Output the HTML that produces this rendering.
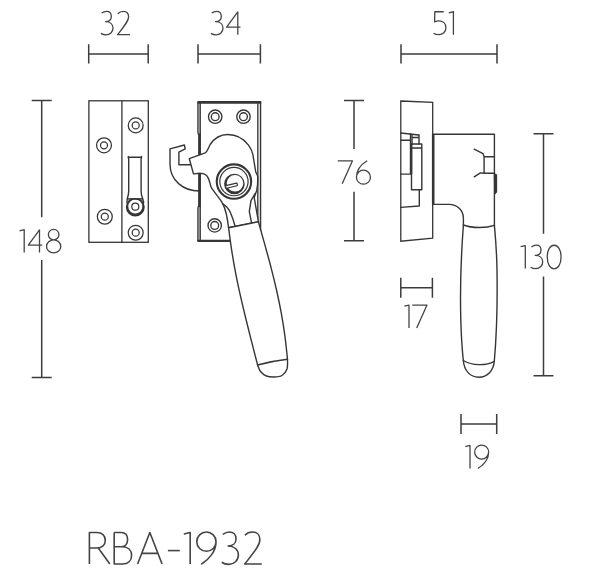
<!DOCTYPE html>
<html><head><meta charset="utf-8"><title>RBA-1932</title>
<style>
html,body{margin:0;padding:0;background:#fff;}
body{width:600px;height:574px;overflow:hidden;font-family:"Liberation Sans",sans-serif;}
svg{display:block;}
</style></head>
<body>
<svg width="600" height="574" viewBox="0 0 600 574">
<rect width="600" height="574" fill="#fff"/>
<path d="M88.7 53.9 H148.2 M88.7 44.3 V63.5 M148.2 44.3 V63.5" fill="none" stroke="#3c3c3c" stroke-width="1.5"/>
<path d="M198 53.9 H260.4 M198 44.3 V63.5 M260.4 44.3 V63.5" fill="none" stroke="#3c3c3c" stroke-width="1.5"/>
<path d="M401 53.9 H497 M401 44.3 V63.5 M497 44.3 V63.5" fill="none" stroke="#3c3c3c" stroke-width="1.5"/>
<path d="M400.8 287.7 H432.4 M400.8 277.7 V297.7 M432.4 277.7 V297.7" fill="none" stroke="#3c3c3c" stroke-width="1.5"/>
<path d="M461 424 H496.7 M461 414 V434 M496.7 414 V434" fill="none" stroke="#3c3c3c" stroke-width="1.5"/>
<path d="M41.7 100.6 V217.3 M41.7 260 V377.5 M31.700000000000003 100.6 H51.7 M31.700000000000003 377.5 H51.7" fill="none" stroke="#3c3c3c" stroke-width="1.5"/>
<path d="M354 100.6 V149 M354 191.7 V240.8 M344 100.6 H364 M344 240.8 H364" fill="none" stroke="#3c3c3c" stroke-width="1.5"/>
<path d="M543.5 133.7 V233.7 M543.5 276.5 V375.7 M533.5 133.7 H553.5 M533.5 375.7 H553.5" fill="none" stroke="#3c3c3c" stroke-width="1.5"/>
<g fill="none" stroke="#444444" stroke-linejoin="round" stroke-linecap="butt"><path transform="translate(100.40,11.20) scale(1.0000)" d="M1.3 1.9 C2.7 0.8 4.4 0.15 6.1 0.15 C9 0.15 10.9 2.2 10.9 5.2 C10.9 8.4 8.4 10.3 5.1 10.4 C9.6 10.4 12.6 13 12.6 16.9 C12.6 21 9.5 23.7 5.7 23.7 C3.6 23.7 1.8 23.1 0.55 22.2" stroke-width="1.300"/><path transform="translate(116.80,11.20) scale(1.0000)" d="M0.9 2.5 C2.3 1 4.2 0.15 6.4 0.15 C9.7 0.15 11.8 2.4 11.8 5.8 C11.8 9.6 8.6 13.4 0.8 23.5 H13.2" stroke-width="1.300"/></g>
<g fill="none" stroke="#444444" stroke-linejoin="round" stroke-linecap="butt"><path transform="translate(210.40,11.20) scale(1.0000)" d="M1.3 1.9 C2.7 0.8 4.4 0.15 6.1 0.15 C9 0.15 10.9 2.2 10.9 5.2 C10.9 8.4 8.4 10.3 5.1 10.4 C9.6 10.4 12.6 13 12.6 16.9 C12.6 21 9.5 23.7 5.7 23.7 C3.6 23.7 1.8 23.1 0.55 22.2" stroke-width="1.300"/><path transform="translate(225.80,11.20) scale(1.0000)" d="M12 23.5 V0.7 L0.8 16 H14.7" stroke-width="1.300"/></g>
<g fill="none" stroke="#444444" stroke-linejoin="round" stroke-linecap="butt"><path transform="translate(433.00,11.20) scale(1.0000)" d="M10.7 0.55 H1.8 L1.6 10.6 C3 10 4.4 9.7 5.8 9.7 C10 9.7 12.9 12.4 12.9 16.5 C12.9 20.7 9.8 23.5 5.7 23.5 C3.6 23.5 1.8 22.9 0.55 22" stroke-width="1.300"/><path transform="translate(448.20,11.20) scale(1.0000)" d="M0.55 1.7 L5.2 0.55 V23.5" stroke-width="1.300"/></g>
<g fill="none" stroke="#444444" stroke-linejoin="round" stroke-linecap="butt"><path transform="translate(337.20,160.30) scale(1.0000)" d="M0.55 0.55 H15.3 L5 23.5" stroke-width="1.300"/><path transform="translate(355.90,160.30) scale(1.0000)" d="M11.3 0.5 C5.8 3.8 0.55 9.8 0.55 16.9 A7 7 0 1 0 14.55 16.9 A7 7 0 1 0 0.55 16.9" stroke-width="1.300"/></g>
<g fill="none" stroke="#444444" stroke-linejoin="round" stroke-linecap="butt"><path transform="translate(19.00,229.10) scale(1.0000)" d="M0.55 1.7 L5.2 0.55 V23.5" stroke-width="1.300"/><path transform="translate(27.50,229.10) scale(1.0000)" d="M12 23.5 V0.7 L0.8 16 H14.7" stroke-width="1.300"/><path transform="translate(46.00,229.10) scale(1.0000)" d="M7.65 10.75 C4.7 10.75 2.35 8.4 2.35 5.5 C2.35 2.6 4.7 0.25 7.65 0.25 C10.6 0.25 12.95 2.6 12.95 5.5 C12.95 8.4 10.6 10.75 7.65 10.75 C11.6 10.75 14.75 13.7 14.75 17.3 C14.75 20.9 11.6 23.85 7.65 23.85 C3.7 23.85 0.55 20.9 0.55 17.3 C0.55 13.7 3.7 10.75 7.65 10.75 Z" stroke-width="1.300"/></g>
<g fill="none" stroke="#444444" stroke-linejoin="round" stroke-linecap="butt"><path transform="translate(520.10,245.00) scale(1.0000)" d="M0.55 1.7 L5.2 0.55 V23.5" stroke-width="1.300"/><path transform="translate(530.10,245.00) scale(1.0000)" d="M1.3 1.9 C2.7 0.8 4.4 0.15 6.1 0.15 C9 0.15 10.9 2.2 10.9 5.2 C10.9 8.4 8.4 10.3 5.1 10.4 C9.6 10.4 12.6 13 12.6 16.9 C12.6 21 9.5 23.7 5.7 23.7 C3.6 23.7 1.8 23.1 0.55 22.2" stroke-width="1.300"/><path transform="translate(546.70,245.00) scale(1.0000)" d="M7.45 0.25 C3.6 0.25 0.55 4.8 0.55 12.05 C0.55 19.3 3.6 23.85 7.45 23.85 C11.3 23.85 14.35 19.3 14.35 12.05 C14.35 4.8 11.3 0.25 7.45 0.25 Z" stroke-width="1.300"/></g>
<g fill="none" stroke="#444444" stroke-linejoin="round" stroke-linecap="butt"><path transform="translate(403.80,304.50) scale(1.0000)" d="M0.55 1.7 L5.2 0.55 V23.5" stroke-width="1.300"/><path transform="translate(411.70,304.50) scale(1.0000)" d="M0.55 0.55 H15.3 L5 23.5" stroke-width="1.300"/></g>
<g fill="none" stroke="#444444" stroke-linejoin="round" stroke-linecap="butt"><path transform="translate(464.80,444.90) scale(1.0000)" d="M0.55 1.7 L5.2 0.55 V23.5" stroke-width="1.300"/><path transform="translate(474.10,444.90) scale(1.0000)" d="M3.8 23.6 C9.3 20.3 14.55 14.3 14.55 7.2 A7 7 0 1 0 0.55 7.2 A7 7 0 1 0 14.55 7.2" stroke-width="1.300"/></g>
<g fill="none" stroke="#444444" stroke-linejoin="round" stroke-linecap="butt"><path transform="translate(88.64,531.74) scale(1.3750)" d="M0.55 23.5 V0.55 H6 C9.8 0.55 12.1 2.8 12.1 6.15 C12.1 9.5 9.8 11.8 6 11.8 H0.55 M7 11.8 L15.4 23.5" stroke-width="1.164"/><path transform="translate(113.44,531.74) scale(1.3750)" d="M0.55 0.55 V23.5 H6.6 C10.6 23.5 13.2 21 13.2 17.2 C13.2 13.4 10.6 10.9 6.4 10.9 H0.55 M0.55 0.55 H5.6 C8.6 0.55 10.3 2.6 10.3 5.7 C10.3 8.8 8.6 10.9 5.8 10.9" stroke-width="1.164"/><path transform="translate(136.84,531.74) scale(1.3750)" d="M0.55 23.5 L9.45 0.55 L18.35 23.5 M3.7 15.7 H15.2" stroke-width="1.164"/><path transform="translate(167.14,531.74) scale(1.3750)" d="M0.55 13.7 H9.2" stroke-width="1.164"/><path transform="translate(183.04,531.74) scale(1.3750)" d="M0.55 1.7 L5.2 0.55 V23.5" stroke-width="1.164"/><path transform="translate(196.04,531.74) scale(1.3750)" d="M3.8 23.6 C9.3 20.3 14.55 14.3 14.55 7.2 A7 7 0 1 0 0.55 7.2 A7 7 0 1 0 14.55 7.2" stroke-width="1.164"/><path transform="translate(221.04,531.74) scale(1.3750)" d="M1.3 1.9 C2.7 0.8 4.4 0.15 6.1 0.15 C9 0.15 10.9 2.2 10.9 5.2 C10.9 8.4 8.4 10.3 5.1 10.4 C9.6 10.4 12.6 13 12.6 16.9 C12.6 21 9.5 23.7 5.7 23.7 C3.6 23.7 1.8 23.1 0.55 22.2" stroke-width="1.164"/><path transform="translate(243.64,531.74) scale(1.3750)" d="M0.9 2.5 C2.3 1 4.2 0.15 6.4 0.15 C9.7 0.15 11.8 2.4 11.8 5.8 C11.8 9.6 8.6 13.4 0.8 23.5 H13.2" stroke-width="1.164"/></g>
<rect x="88.9" y="100.8" width="59.4" height="141.5" fill="none" stroke="#353535" stroke-width="1.3" stroke-linejoin="miter" stroke-linecap="butt"/><path d="M121.9 100.8 V242.3" fill="none" stroke="#353535" stroke-width="1.3" stroke-linejoin="miter" stroke-linecap="butt"/><circle cx="135.7" cy="125.4" r="7.45" fill="#fff" stroke="#353535" stroke-width="1.25"/><circle cx="135.7" cy="125.4" r="3.5" fill="#fff" stroke="#353535" stroke-width="1.25"/><circle cx="104" cy="145.3" r="7.45" fill="#fff" stroke="#353535" stroke-width="1.25"/><circle cx="104" cy="145.3" r="3.5" fill="#fff" stroke="#353535" stroke-width="1.25"/><circle cx="104.8" cy="216.7" r="7.45" fill="#fff" stroke="#353535" stroke-width="1.25"/><circle cx="104.8" cy="216.7" r="3.5" fill="#fff" stroke="#353535" stroke-width="1.25"/><circle cx="135.7" cy="232.7" r="7.45" fill="#fff" stroke="#353535" stroke-width="1.25"/><circle cx="135.7" cy="232.7" r="3.5" fill="#fff" stroke="#353535" stroke-width="1.25"/><path d="M125.85000000000001 207.0 A9.45 9.45 0 1 0 144.75 207.0 A9.45 9.45 0 1 0 125.85000000000001 207.0 Z M128.25 206.55 A7.05 7.05 0 1 0 142.35000000000002 206.55 A7.05 7.05 0 1 0 128.25 206.55 Z" fill="#353535" fill-rule="evenodd" stroke="none"/><rect x="129.3" y="158" width="11.2" height="40.3" fill="#fff"/><path d="M128.7 157.3 H141.1 M128.3 156.4 V158 M141.5 156.4 V158 M128.7 157.3 V191 C128.7 194 128 196.5 127.3 198.6 L126.9 202.5 M141.1 157.3 V191 C141.1 194 141.8 196.5 142.7 198.6 L143.7 202.5" fill="none" stroke="#353535" stroke-width="1.4" stroke-linejoin="round" stroke-linecap="round"/><path d="M127.2 198.9 H142.9" fill="none" stroke="#353535" stroke-width="1.5"/><circle cx="135.3" cy="206.7" r="3.5" fill="#fff" stroke="#353535" stroke-width="1.2"/>
<path d="M199.1 102 V241" fill="none" stroke="#b4b4b4" stroke-width="1.4"/><path d="M259.2 102 V241" fill="none" stroke="#dcdcdc" stroke-width="1.4"/><path d="M197.9 102 V132.5 L198.5 134.5 M198.5 206 L197.9 208 V241 M260.6 102 V241" fill="none" stroke="#353535" stroke-width="1.3" stroke-linejoin="miter" stroke-linecap="butt"/><path d="M199.4 133.5 V207" fill="none" stroke="#353535" stroke-width="2.5"/><path d="M197.45 102.35 H261.25" fill="none" stroke="#353535" stroke-width="2.7"/><path d="M197.45 240.9 H261.25" fill="none" stroke="#353535" stroke-width="2.4"/><path d="M200.25 102 V241 M257.8 102 V241" fill="none" stroke="#353535" stroke-width="1.3" stroke-linejoin="miter" stroke-linecap="butt"/><circle cx="215.2" cy="116.7" r="6.7" fill="#fff" stroke="#353535" stroke-width="1.35"/><circle cx="215.2" cy="116.7" r="3.9" fill="#fff" stroke="#353535" stroke-width="1.35"/><circle cx="243.5" cy="116.7" r="6.7" fill="#fff" stroke="#353535" stroke-width="1.35"/><circle cx="243.5" cy="116.7" r="3.9" fill="#fff" stroke="#353535" stroke-width="1.35"/><circle cx="214.7" cy="225.4" r="6.7" fill="#fff" stroke="#353535" stroke-width="1.35"/><circle cx="214.7" cy="225.4" r="3.9" fill="#fff" stroke="#353535" stroke-width="1.35"/><path d="M199 191 C184 191 170 181 170 164 L170 148.9 L184.4 145 L185.2 148.9 L178.9 152.2 L178.9 164.8 L190.6 164.8" fill="none" stroke="#353535" stroke-width="1.4" stroke-linejoin="round" stroke-linecap="round"/><path d="M189.3 158.7 L199 155.2 L205.2 152.8 C207.5 151.8 208.3 147.7 210.2 144.5 C214 138.8 220.5 134.5 227.7 134.5 C236.5 134.5 244 139.2 248.5 145.2 C251 148.7 252.3 152 252.8 154.2 L255.7 171.7 L257.6 175.8 C258 181 257.6 186 256.8 190.2 L254.2 197.5 L258.4 221.7 L228.6 227.8 C227.3 217 225.6 209 222.8 203.8 C220 198.5 214 192 211.2 187.3 C209.5 182.5 209.2 177 205.8 174.8 C203.8 173.4 201 173.3 199.6 173.3 L193.5 173.9 Z" fill="#fff" stroke="#353535" stroke-width="1.4" stroke-linejoin="round" stroke-linecap="round"/><path d="M222.8 203.8 C226.5 206 229.5 210 230.7 213.2 C232.5 217.5 234 221.5 234.9 225.8" fill="none" stroke="#353535" stroke-width="1.4" stroke-linejoin="round" stroke-linecap="round"/><path d="M255.2 193.4 L251 200.7 L249.3 211.6 L251.6 222.8" fill="none" stroke="#353535" stroke-width="1.4" stroke-linejoin="round" stroke-linecap="round"/><circle cx="233.95" cy="181.6" r="17.2" fill="#fff" stroke="#353535" stroke-width="2.1"/><circle cx="233.95" cy="181.6" r="14.15" fill="#fff" stroke="#353535" stroke-width="1.2"/><path d="M224.1 183.95 A10.3 10.3 0 1 0 244.70000000000002 183.95 A10.3 10.3 0 1 0 224.1 183.95 Z M226.7 183.3 A8.3 8.3 0 1 0 243.3 183.3 A8.3 8.3 0 1 0 226.7 183.3 Z" fill="#353535" fill-rule="evenodd" stroke="none"/><rect x="-5.9" y="-1.35" width="11.8" height="2.7" rx="0.5" transform="translate(231.5,185.7) rotate(-13.6)" fill="#fff" stroke="#353535" stroke-width="1.15"/><path d="M228.60 227.80 C229.12 231.61 230.54 243.05 231.73 250.67 C232.92 258.29 234.27 265.91 235.74 273.53 C237.21 281.15 238.86 288.78 240.57 296.40 C242.28 304.02 244.12 311.65 245.98 319.27 C247.84 326.89 249.79 334.51 251.73 342.13 C253.67 349.75 256.62 361.19 257.60 365.00 C258.08 366.08 259.02 369.67 260.50 371.50 C261.98 373.33 264.25 375.08 266.50 376.00 C268.75 376.92 271.42 377.08 274.00 377.00 C276.58 376.92 279.83 376.83 282.00 375.50 C284.17 374.17 286.08 371.70 287.00 369.00 C287.92 366.30 287.42 360.92 287.50 359.30 C287.08 355.48 285.99 344.01 284.96 336.37 C283.93 328.73 282.72 321.07 281.33 313.43 C279.94 305.79 278.34 298.14 276.63 290.50 C274.92 282.86 273.03 275.21 271.06 267.57 C269.09 259.93 266.93 252.28 264.82 244.63 C262.71 236.98 259.47 225.52 258.40 221.70 Z" fill="#fff" stroke="#353535" stroke-width="1.4" stroke-linejoin="round" stroke-linecap="round"/><path d="M257.6 365 Q272.3 361 287.5 359.3" fill="none" stroke="#353535" stroke-width="1.4" stroke-linejoin="round" stroke-linecap="round"/>
<path d="M400.8 101 L432.7 102.3 L432.7 238.2 L400.8 241.2 Z" fill="none" stroke="#353535" stroke-width="1.3" stroke-linejoin="miter" stroke-linecap="butt"/><path d="M400.8 133 L418.7 135" fill="none" stroke="#353535" stroke-width="1.4" stroke-linejoin="round" stroke-linecap="round"/><path d="M400.8 140.2 H410.5 M410.5 134 V174.1 H400.8" fill="none" stroke="#353535" stroke-width="1.4" stroke-linejoin="round" stroke-linecap="round"/><path d="M412 134.4 V144 M419 135 V144 M412 137.5 H419" fill="none" stroke="#353535" stroke-width="1.4" stroke-linejoin="round" stroke-linecap="round"/><path d="M411.5 144 H421.8 V189.8 H411.5 Z M411.5 148 H421.8" fill="none" stroke="#353535" stroke-width="1.4" stroke-linejoin="round" stroke-linecap="round"/><path d="M411.2 144 V174" fill="none" stroke="#353535" stroke-width="2.2"/><path d="M419.3 189.8 V206 L400.7 207.4" fill="none" stroke="#353535" stroke-width="1.4" stroke-linejoin="round" stroke-linecap="round"/><path d="M433.2 134 V204.4" fill="none" stroke="#353535" stroke-width="2.6"/><path d="M432.7 134.2 H494.4 V225.4 M433 204.4 H449 C457 204.4 463.4 210 463.4 218 V225" fill="none" stroke="#353535" stroke-width="1.4" stroke-linejoin="round" stroke-linecap="round"/><path d="M474.2 149.2 L483 153.6 L484.1 156.7 H494.4 M484.1 156.7 V173.2 H494.4 M484.1 173.2 L480.4 172.9 L474.2 176.8" fill="none" stroke="#353535" stroke-width="1.4" stroke-linejoin="round" stroke-linecap="round"/><path d="M494.4 173.6 L496.6 175 V191.9 L494.6 194.2 Z" fill="#353535" stroke="#353535" stroke-width="1.1" stroke-linejoin="round"/><path d="M463.4 225 C461.5 250 460 290 460.8 320 C461.3 338 462.2 350 463.3 360.5 C464.2 370.5 470 377.2 478.8 377.2 C487.6 377.2 493.5 370.5 494.3 361.3 C496 342 497.5 300 497 270 C496.7 250 495.3 235 494.4 225.4" fill="none" stroke="#353535" stroke-width="1.4" stroke-linejoin="round" stroke-linecap="round"/><path d="M463.4 225 C472 228.3 486 228.3 494.4 225.4" fill="none" stroke="#353535" stroke-width="1.4" stroke-linejoin="round" stroke-linecap="round"/><path d="M463.3 360.5 C472 365.8 486 366 494.3 361.3" fill="none" stroke="#353535" stroke-width="1.4" stroke-linejoin="round" stroke-linecap="round"/>
</svg>
</body></html>
